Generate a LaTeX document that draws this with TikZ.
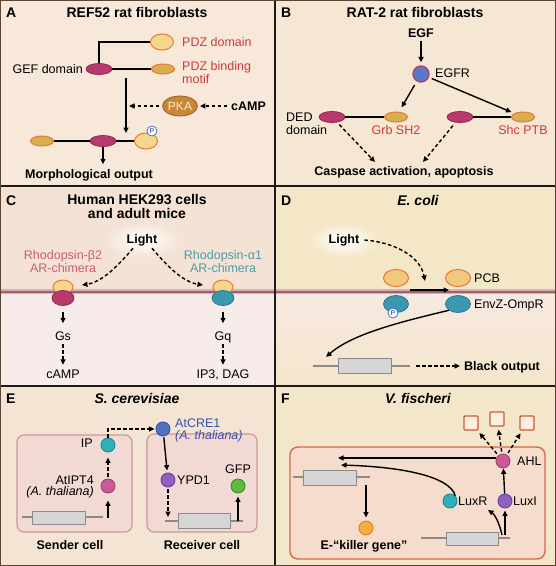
\documentclass[tikz,border=0pt]{standalone}
\usepackage{fontspec}
\setmainfont{Liberation Sans}
\usetikzlibrary{arrows.meta,shapes.geometric,calc}
\definecolor{bgA}{HTML}{F8E8DA}
\definecolor{bgB}{HTML}{F6E6D4}
\definecolor{bgCt}{HTML}{F4E3D4}
\definecolor{bgCb}{HTML}{F8ECEA}
\definecolor{bgDt}{HTML}{F4E7C8}
\definecolor{bgDb}{HTML}{F8E9E2}
\definecolor{bgDe}{HTML}{F4E6CA}
\definecolor{bgE}{HTML}{F3E4D4}
\definecolor{bgF}{HTML}{F3E6CB}
\definecolor{magF}{HTML}{B83A6C}
\definecolor{magD}{HTML}{8E2850}
\definecolor{yeF}{HTML}{F4D68C}
\definecolor{orD}{HTML}{E87838}
\definecolor{olF}{HTML}{D4B050}
\definecolor{redT}{HTML}{D03838}
\definecolor{rhoR}{HTML}{C85C72}
\definecolor{tealT}{HTML}{4C9AA8}
\definecolor{tealF}{HTML}{3A98B0}
\definecolor{tealD}{HTML}{2A7890}
\definecolor{pB}{HTML}{5070C0}
\definecolor{egfrF}{HTML}{5A78C8}
\definecolor{pkaF}{HTML}{C8883A}
\definecolor{pkaD}{HTML}{9A6020}
\definecolor{pkaT}{HTML}{FBE9C8}
\definecolor{membL}{HTML}{D8B0B4}
\definecolor{membD}{HTML}{A06070}
\definecolor{geneF}{HTML}{D6D6D6}
\definecolor{geneD}{HTML}{8A8A8A}
\definecolor{cellE}{HTML}{F2D9D4}
\definecolor{cellED}{HTML}{C89A98}
\definecolor{cellF}{HTML}{F6DCCC}
\definecolor{cellFD}{HTML}{D46A4A}
\definecolor{ipF}{HTML}{C85A98}
\definecolor{ipD}{HTML}{A04070}
\definecolor{ipcF}{HTML}{30B0B8}
\definecolor{ipcD}{HTML}{208890}
\definecolor{creF}{HTML}{5070C0}
\definecolor{creD}{HTML}{3A50A0}
\definecolor{creT}{HTML}{3A50A8}
\definecolor{ypF}{HTML}{9060C0}
\definecolor{ypD}{HTML}{7040A0}
\definecolor{gfpF}{HTML}{60B840}
\definecolor{gfpD}{HTML}{409020}
\definecolor{kgF}{HTML}{F0B040}
\definecolor{kgD}{HTML}{E08020}
\definecolor{sqF}{HTML}{FDF0E0}
\definecolor{sqD}{HTML}{D05838}
\definecolor{divC}{HTML}{1E1A18}
\definecolor{frameC}{HTML}{5A4535}
\tikzset{
  lbl/.style={inner sep=0pt, text height=9pt, text depth=0pt, font=\fontsize{12.5}{14}\selectfont},
  blbl/.style={lbl, font=\fontsize{12.5}{14}\selectfont\bfseries},
  ilbl/.style={lbl, font=\fontsize{12.5}{14}\selectfont\itshape},
  ttl/.style={inner sep=0pt, text height=10pt, text depth=0pt, font=\fontsize{14}{16}\selectfont\bfseries},
  ittl/.style={ttl, font=\fontsize{14}{16}\selectfont\bfseries\itshape},
  letter/.style={ttl, anchor=west},
  ln/.style={line width=1.4pt, draw=black},
  arr/.style={ln, -{Triangle[length=5.5pt,width=5pt]}},
  darr/.style={arr, dash pattern=on 3.5pt off 2.5pt},
  magell/.style={ellipse, inner sep=0pt, minimum width=26pt, minimum height=11pt, fill=magF, draw=magD, line width=0.8pt},
  oell/.style={ellipse, inner sep=0pt, minimum width=23pt, minimum height=10pt, fill=olF, draw=orD, line width=1pt},
  yell/.style={ellipse, inner sep=0pt, minimum width=23pt, minimum height=16pt, fill=yeF, draw=orD, line width=1pt},
  tealell/.style={ellipse, inner sep=0pt, minimum width=25pt, minimum height=17pt, fill=tealF, draw=tealD, line width=0.8pt},
  pka/.style={ellipse, inner sep=0pt, minimum width=35pt, minimum height=20pt, fill=pkaF, draw=pkaD, line width=0.8pt, text=pkaT, font=\fontsize{12}{14}\selectfont},
  pcirc/.style={circle, inner sep=0pt, minimum size=10pt, fill=white, draw=pB, line width=0.8pt, text=pB, font=\fontsize{7}{8}\selectfont\bfseries},
  ball/.style={circle, inner sep=0pt, minimum size=14pt, line width=0.9pt},
  genebox/.style={rectangle, inner sep=0pt, fill=geneF, draw=geneD, line width=0.8pt},
  geneline/.style={line width=2.5pt, draw=geneD},
  cellbox/.style={rectangle, rounded corners=7pt, inner sep=0pt, line width=1.2pt},
  sq/.style={rectangle, rounded corners=1pt, inner sep=0pt, minimum size=14pt, fill=sqF, draw=sqD, line width=1.3pt},
}
\begin{document}
\begin{tikzpicture}[x=1pt,y=-1pt]
\useasboundingbox (0,0) rectangle (556,566);
% backgrounds
\fill[bgA] (0,0) rectangle (275,186);
\fill[bgB] (275,0) rectangle (556,186);
\fill[bgCt] (0,186) rectangle (275,291);
\fill[bgCb] (0,291) rectangle (275,386);
\fill[bgDt] (275,186) rectangle (556,291);
\shade[top color=bgDb, bottom color=bgDe] (275,291) rectangle (556,386);
\fill[bgE] (0,386) rectangle (275,566);
\fill[bgF] (275,386) rectangle (556,566);
% membranes
\fill[membL] (0,289) rectangle (556,294);
\fill[membD] (0,290.5) rectangle (556,292.6);

% ---------- Panel A ----------
\node[letter] (la) at (6,12) {A};
\node[ttl] (ta) at (137,12) {REF52 rat fibroblasts};
\node[yell] (pdz) at (162,42) {};
\node[lbl, anchor=west, text=redT] (pdzt) at (182,42) {PDZ domain};
\node[magell] (gef) at (99,69) {};
\node[lbl, anchor=east] (geft) at (83,69) {GEF domain};
\node[oell] (pdzb) at (163,69) {};
\node[lbl, anchor=west, text=redT] (pdzbt) at (182,66) {PDZ binding};
\node[lbl, anchor=west, text=redT] (motif) at (182,79) {motif};
\draw[ln] (gef.north) |- (pdz.west);
\draw[ln] (gef.east) -- (pdzb.west);
\coordinate (va1) at (126,78);
\coordinate (va2) at (126,133);
\draw[arr] (va1) -- (va2);
\node[pka] (pka) at (180,106) {PKA};
\node[blbl, anchor=west] (campa) at (231,106) {cAMP};
\coordinate (vm) at (129,106);
\draw[darr, shorten <=4pt, shorten >=2pt] (campa.west) -- (pka.east);
\draw[darr, shorten <=3pt] (pka.west) -- (vm);
\node[oell] (b1) at (42,141) {};
\node[magell] (b2) at (103,141) {};
\node[yell] (b3) at (146,141) {};
\draw[ln] (b1.east) -- (b2.west) (b2.east) -- (b3.west);
\node[pcirc] (pa) at (152,131) {P};
\node[blbl] (morph) at (89,174) {Morphological output};
\draw[arr, shorten >=5pt] (b2.south) -- (b2.south |- morph.north);

% ---------- Panel B ----------
\node[letter] (lb) at (281,12) {B};
\node[ttl] (tb) at (415,12) {RAT-2 rat fibroblasts};
\node[blbl] (egf) at (421,33) {EGF};
\node[ball, minimum size=16pt, fill=egfrF, draw=magF, line width=1.3pt] (egfr) at (421,74) {};
\node[lbl, anchor=west] (egfrt) at (435,73) {EGFR};
\draw[arr, shorten <=3pt, shorten >=3pt] (egf) -- (egfr);
\node[magell] (ded) at (332,117) {};
\node[oell] (grb) at (396,117) {};
\draw[ln] (ded.east) -- (grb.west);
\node[lbl, anchor=west] (dedt) at (286,117) {DED};
\node[lbl, anchor=west] (domt) at (286,130) {domain};
\node[lbl, text=redT] (grbt) at (396,130) {Grb SH2};
\node[magell] (ded2) at (460,117) {};
\node[oell] (shc) at (523,117) {};
\draw[ln] (ded2.east) -- (shc.west);
\node[lbl, text=redT] (shct) at (523,130) {Shc PTB};
\draw[arr, shorten <=4pt, shorten >=5pt] (egfr) -- (grb);
\draw[arr, shorten <=3pt, shorten >=3pt] (egfr) -- (shc);
\node[blbl] (casp) at (404,171) {Caspase activation, apoptosis};
\coordinate (c1) at (375,162);
\coordinate (c2) at (423,162);
\draw[darr, shorten <=3pt] (ded) -- (c1);
\draw[darr, shorten <=4pt] (ded2) -- (c2);

% ---------- Panel C ----------
\node[letter] (lc) at (6,200) {C};
\node[ttl] (tc1) at (137,199) {Human HEK293 cells};
\node[ttl] (tc2) at (137,213) {and adult mice};
\shade[inner color=white, outer color=bgCt] (142,240) ellipse (38 and 18);
\node[blbl] (lightc) at (142,239) {Light};
\node[lbl, text=rhoR] (rb1) at (63,255) {Rhodopsin-β2};
\node[lbl, text=rhoR] (rb2) at (63,268) {AR-chimera};
\node[lbl, text=tealT] (ra1) at (223,255) {Rhodopsin-α1};
\node[lbl, text=tealT] (ra2) at (223,268) {AR-chimera};
\node[yell, minimum width=20pt, minimum height=14pt] (ly) at (63,287) {};
\node[magell, minimum width=22pt, minimum height=15pt] (lm) at (63,298) {};
\node[yell, minimum width=20pt, minimum height=14pt] (ry) at (223,287) {};
\node[tealell, minimum width=22pt, minimum height=15pt] (rt) at (223,298) {};
\coordinate (cl) at (82,285);
\coordinate (cr) at (203,285);
\draw[darr] ($(lightc.south)+(-9,4.5)$) .. controls (118,266) and (102,282) .. (cl);
\draw[darr] ($(lightc.south)+(10,4.5)$) .. controls (167,266) and (183,282) .. (cr);
\node[lbl] (gs) at (63,336) {Gs};
\draw[arr, shorten <=6pt, shorten >=8pt] (lm.south) -- (gs.north);
\node[lbl] (campc) at (63,374) {cAMP};
\draw[darr, shorten <=3.5pt, shorten >=4.5pt] (gs.south) -- (campc.north);
\node[lbl] (gq) at (223,336) {Gq};
\draw[arr, shorten <=6pt, shorten >=8pt] (rt.south) -- (gq.north);
\node[lbl] (ip3) at (223,374) {IP3, DAG};
\draw[darr, shorten <=3.5pt, shorten >=4.5pt] (gq.south) -- (ip3.north);

% ---------- Panel D ----------
\node[letter] (ld) at (281,200) {D};
\node[ittl] (td) at (418,200) {E. coli};
\shade[inner color=white, outer color=bgDt] (344,240) ellipse (36 and 18);
\node[blbl] (lightd) at (344,239) {Light};
\node[yell, minimum width=25pt, minimum height=17pt, fill=yeF!85!orD] (pcb1) at (396,278) {};
\node[yell, minimum width=25pt, minimum height=17pt, fill=yeF!85!orD] (pcb2) at (458,278) {};
\node[lbl, anchor=west] (pcbt) at (474,278) {PCB};
\node[tealell] (env1) at (396,304) {};
\node[tealell] (env2) at (458,304) {};
\node[lbl, anchor=west] (envt) at (474,304) {EnvZ-OmpR};
\node[pcirc] (pd) at (393,313) {P};
\coordinate (ld1) at (425,281);
\draw[darr] ($(lightd.east)+(5,1)$) .. controls (392,242) and (420,255) .. (ld1);
\coordinate (m1) at (410,290);
\coordinate (m2) at (449,290);
\draw[arr, line width=1.2pt] (m1) -- (m2);
\coordinate (gd) at (326,357);
\draw[arr] (env2.south west) .. controls (400,322) and (352,334) .. (gd);
\draw[geneline] (313,366) -- (410,366);
\node[genebox, minimum width=53pt, minimum height=15pt] (gD) at (364.5,365.5) {};
\coordinate (bo1) at (416,366);
\node[blbl, anchor=west] (bout) at (464,366) {Black output};
\draw[darr, shorten >=4pt] (bo1) -- (bout.west);

% ---------- Panel E ----------
\node[letter] (le) at (6,398) {E};
\node[ittl] (te) at (137,398) {S. cerevisiae};
\node[cellbox, fill=cellE, draw=cellED, minimum width=115pt, minimum height=97pt] (send) at (74.5,483.5) {};
\node[cellbox, fill=cellE, draw=cellED, minimum width=110pt, minimum height=98pt] (recv) at (202,483) {};
\node[blbl] (sendt) at (70,545) {Sender cell};
\node[blbl] (recvt) at (202,545) {Receiver cell};
\draw[geneline] (22,517) -- (103,517);
\node[genebox, minimum width=53pt, minimum height=13pt] (gE1) at (58.5,517.5) {};
\node[ball, fill=ipF, draw=ipD] (ipt) at (108,486) {};
\coordinate (ge1) at (108,518);
\draw[arr, shorten >=7pt] (ge1) -- (ipt.south);
\node[lbl, anchor=east] (iptt) at (94,480) {AtIPT4};
\node[ilbl, anchor=east] (iptt2) at (94,491) {(A. thaliana)};
\node[ball, fill=ipcF, draw=ipcD] (ipc) at (108,445) {};
\node[lbl, anchor=east] (ipct) at (93,443) {IP};
\draw[darr, shorten <=2pt, shorten >=5pt] (ipt.north) -- (ipc.south);
\node[ball, fill=creF, draw=creD] (cre) at (163,429) {};
\draw[darr, shorten >=1pt] (ipc.north) -- (ipc.north |- cre.west) -- (cre.west);
\node[lbl, anchor=west, text=creT] (cret) at (175,423) {AtCRE1};
\node[ilbl, anchor=west, text=creT] (cret2) at (175,435) {(A. thaliana)};
\node[ball, fill=ypF, draw=ypD] (ypd) at (168,480) {};
\draw[arr, shorten <=1pt, shorten >=2pt] (cre) -- (ypd);
\node[lbl, anchor=west] (ypdt) at (177,480) {YPD1};
\coordinate (ge2) at (168,517);
\draw[darr, shorten <=2pt] (ypd.south) -- (ge2);
\draw[geneline] (165,521) -- (243,521);
\node[genebox, minimum width=52pt, minimum height=15pt] (gE2) at (204,520.5) {};
\node[ball, fill=gfpF, draw=gfpD] (gfp) at (238,486) {};
\coordinate (ge3) at (238,521);
\draw[arr, shorten >=3pt] (ge3) -- (gfp.south);
\node[lbl] (gfpt) at (238,469) {GFP};

% ---------- Panel F ----------
\node[letter] (lf) at (281,398) {F};
\node[ittl] (tf) at (418,398) {V. fischeri};
\node[cellbox, rounded corners=8pt, fill=cellF, draw=cellFD, line width=1.4pt, minimum width=255pt, minimum height=112pt] (cellf) at (417.5,503) {};
\node[sq] (sq1) at (471,423) {};
\node[sq] (sq2) at (497,419) {};
\node[sq] (sq3) at (527,423) {};
\node[ball, fill=ipF, draw=ipD] (ahl) at (503,461) {};
\node[lbl, anchor=west] (ahlt) at (517,461) {AHL};
\draw[darr, shorten <=2pt, shorten >=3pt] (ahl) -- (sq1);
\draw[darr, shorten <=2pt, shorten >=3pt] (ahl) -- (sq2);
\draw[darr, shorten <=2pt, shorten >=3pt] (ahl) -- (sq3);
\coordinate (fa) at (338,458);
\draw[arr] ([yshift=3pt]ahl.west) -- (fa);
\node[ball, fill=ipcF, draw=ipcD] (luxr) at (450,501) {};
\node[lbl, anchor=west] (luxrt) at (458,501) {LuxR};
\node[ball, fill=ypF, draw=ypD] (luxi) at (505,501) {};
\node[lbl, anchor=west] (luxit) at (513,501) {LuxI};
\draw[arr] (luxi) -- (ahl);
\coordinate (fb) at (341,465);
\draw[arr] (luxr.north east) .. controls (450,477) and (405,467) .. (fb);
\draw[geneline] (293,477) -- (370,477);
\node[genebox, minimum width=53pt, minimum height=15pt] (gF1) at (329.5,477.5) {};
\coordinate (gl) at (366,485);
\node[ball, fill=kgF, draw=kgD] (kg) at (366,528) {};
\draw[arr, shorten >=3pt] (gl) -- (kg.north);
\node[blbl] (kgt) at (364,545) {E-“killer gene”};
\draw[geneline] (421,538) -- (510,538);
\node[genebox, minimum width=52pt, minimum height=13pt] (gF2) at (472,538.5) {};
\coordinate (gr) at (505,535);
\draw[arr, shorten >=2pt] (gr) -- (luxi.south);
\coordinate (gr2) at (502,535);
\coordinate (lrt) at (488,510);
\draw[arr] (gr2) .. controls (499,521) and (494,514) .. (lrt);

% dividers and frame
\draw[divC, line width=1.6pt] (275,0) -- (275,566);
\draw[divC, line width=1.6pt] (0,186) -- (556,186);
\draw[divC, line width=1.6pt] (0,386) -- (556,386);
\draw[frameC, line width=1pt] (0.5,0.5) rectangle (555.5,565.5);
\end{tikzpicture}
\end{document}
